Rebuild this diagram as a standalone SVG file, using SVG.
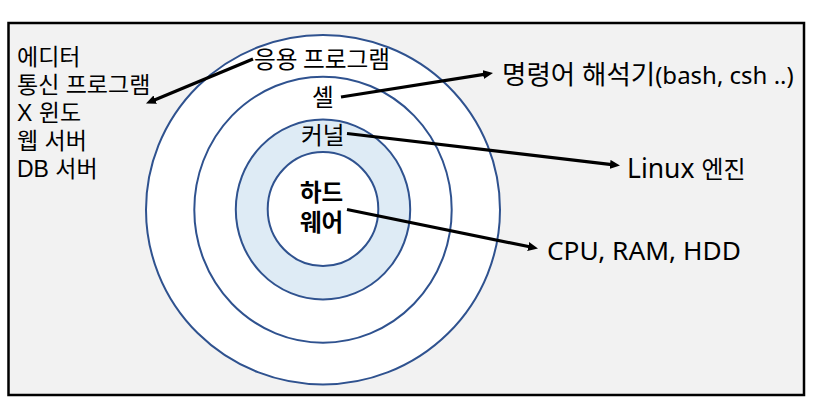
<svg xmlns="http://www.w3.org/2000/svg" width="816" height="412" viewBox="0 0 816 412">
  <style>
    .ring { stroke: #2F528F; stroke-width: 2; }
    .lbl { font-family: "Noto Sans", "Noto Sans CJK KR", sans-serif; fill: #000; }
    .list { font-family: "Liberation Sans", "Noto Sans CJK KR", sans-serif; fill: #000; font-size: 23px; }
    .ko { font-family: "Noto Sans CJK KR", sans-serif; fill: #000; }
    .hw { font-family: "Liberation Sans", "Noto Sans CJK KR", sans-serif; fill: #000; font-size: 23.5px; font-weight: bold; }
    .conn { stroke: #000; stroke-width: 3.2; fill: none; marker-end: url(#arrow); }
  </style>
  <defs>
    <marker id="arrow" viewBox="0 0 10 9" markerWidth="10" markerHeight="9" refX="4" refY="4.5" orient="auto" markerUnits="userSpaceOnUse">
      <path d="M0,0 L10,4.5 L0,9 z" fill="#000"/>
    </marker>
  </defs>

  <rect id="frame" x="8.5" y="23" width="795.5" height="372" fill="#F2F2F2" stroke="#000" stroke-width="2.5"/>

  <g id="rings">
    <ellipse id="ring-app" class="ring" cx="323" cy="209.7" rx="177" ry="174.7" fill="#FFFFFF"/>
    <ellipse id="ring-shell" class="ring" cx="323" cy="209.7" rx="128.7" ry="133" fill="#FFFFFF"/>
    <ellipse id="ring-kernel" class="ring" cx="323" cy="209.5" rx="87.2" ry="90" fill="#DEEBF5"/>
    <ellipse id="ring-hw" class="ring" cx="323" cy="209" rx="55.3" ry="57" fill="#FFFFFF"/>
  </g>

  <g id="node-apps-list">
    <text class="list" x="17" y="65">에디터</text>
    <text class="list" x="17" y="93">통신 프로그램</text>
    <text class="list" x="17" y="121">X 윈도</text>
    <text class="list" x="17" y="149">웹 서버</text>
    <text class="list" x="17" y="177">DB 서버</text>
  </g>

  <g id="node-app">
    <text class="ko" font-size="23.7" x="254" y="68">응용 프로그램</text>
  </g>
  <g id="node-shell">
    <text class="ko" font-size="23.7" x="312" y="106">셸</text>
  </g>
  <g id="node-kernel">
    <text class="ko" font-size="23.7" x="301" y="144">커널</text>
  </g>
  <g id="node-hardware">
    <text class="hw" x="300" y="201">하드</text>
    <text class="hw" x="300" y="231">웨어</text>
  </g>

  <g id="node-shell-desc">
    <text class="lbl" x="502" y="84"><tspan font-size="26.5">명령어 해석기</tspan><tspan font-size="24">(bash, csh ..)</tspan></text>
  </g>
  <g id="node-kernel-desc">
    <text class="lbl" x="627" y="178"><tspan font-size="26.5">Linux </tspan><tspan font-size="24">엔진</tspan></text>
  </g>
  <g id="node-hw-desc">
    <text class="lbl" font-size="26.3" x="547" y="260">CPU, RAM, HDD</text>
  </g>

  <g id="connectors">
    <line class="conn" x1="253" y1="59" x2="151.5" y2="101.2"/>
    <line class="conn" x1="341" y1="97" x2="487.1" y2="73.9"/>
    <line class="conn" x1="347" y1="133.5" x2="614" y2="164.8"/>
    <line class="conn" x1="347" y1="209.5" x2="532.1" y2="247.3"/>
  </g>
</svg>
